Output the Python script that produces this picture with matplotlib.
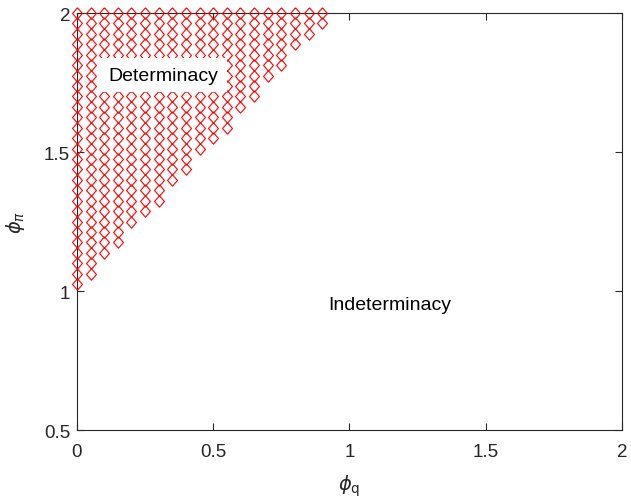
import numpy as np
import matplotlib
matplotlib.use('Agg')
import matplotlib.pyplot as plt

# columns of phi_q that have determinate points, and the lowest phi_pi in each column
phi_q_cols = [0.00, 0.05, 0.10, 0.15, 0.20, 0.25, 0.30, 0.35, 0.40, 0.45,
              0.50, 0.55, 0.60, 0.65, 0.70, 0.75, 0.80, 0.85, 0.90]
phi_pi_low = [1.025, 1.0625, 1.1375, 1.175, 1.25, 1.2875, 1.325, 1.4, 1.4375, 1.5125,
              1.55, 1.5875, 1.6625, 1.7, 1.775, 1.8125, 1.8875, 1.925, 1.9625]
phi_pi_step = 0.0375
phi_pi_top = 2.0

xticks = [0, 0.5, 1, 1.5, 2]
yticks = [0.5, 1, 1.5, 2]

# build the grid of points column by column
px, py = [], []
for q, lo in zip(phi_q_cols, phi_pi_low):
    n = int(round((phi_pi_top - lo) / phi_pi_step)) + 1
    for k in range(n):
        px.append(q)
        py.append(phi_pi_top - k * phi_pi_step)

plt.rcParams['font.family'] = ['Liberation Sans', 'DejaVu Sans']

fig = plt.figure(figsize=(6.31, 5.02), dpi=100)
ax = fig.add_axes([0.122, 0.1414, 0.8637, 0.8306])

diamond = [(0, 1), (0.87, 0), (0, -1), (-0.87, 0), (0, 1)]
ax.plot(px, py, linestyle='none', marker=diamond, markersize=8.2,
        markerfacecolor='none', markeredgecolor='#ff0000', markeredgewidth=0.8,
        clip_on=False, zorder=3)

ax.text(0.316, 1.777, 'Determinacy', fontsize=14, ha='center', va='center',
        bbox=dict(boxstyle='square,pad=0.45', facecolor='white', edgecolor='none'),
        zorder=4)
ax.text(1.149, 0.953, 'Indeterminacy', fontsize=14, ha='center', va='center')

ax.set_xlim(0, 2)
ax.set_ylim(0.5, 2)
ax.set_xticks(xticks)
ax.set_xticklabels(['0', '0.5', '1', '1.5', '2'])
ax.set_yticks(yticks)
ax.set_yticklabels(['0.5', '1', '1.5', '2'])

for s in ax.spines.values():
    s.set_color('#262626')
    s.set_linewidth(0.8)
ax.tick_params(direction='in', top=True, right=True, length=5, width=0.8,
               color='#262626', labelsize=13.5, labelcolor='#262626')
ax.tick_params(axis='x', pad=9.5)
ax.tick_params(axis='y', pad=5)

ax.set_xlabel(r'$\phi_{\mathrm{q}}$', fontsize=14, color='#262626', labelpad=9)
ax.set_ylabel(r'$\phi_{\pi}$', fontsize=14, color='#262626', labelpad=12)

fig.savefig('out.png', dpi=100)
